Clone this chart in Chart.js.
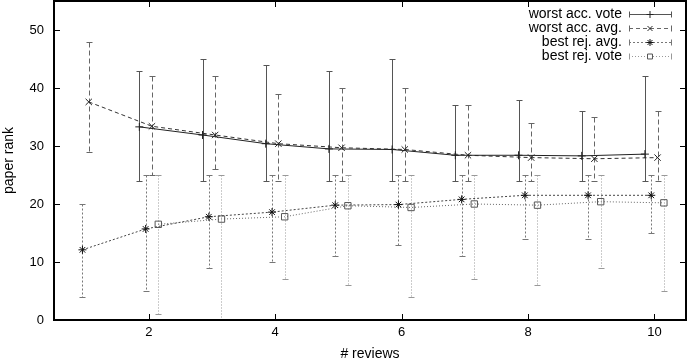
<!DOCTYPE html>
<html>
<head>
<meta charset="utf-8">
<script src="https://cdn.jsdelivr.net/npm/chart.js@4.4.0/dist/chart.umd.min.js"></script>
<style>
  html, body { margin: 0; padding: 0; background: #fff; }
  #wrap { width: 688px; height: 360px; }
</style>
</head>
<body>
<div id="wrap"><canvas id="rankChart" width="688" height="360"></canvas></div>
<script>
// # reviews
const reviewsAll = [1, 2, 3, 4, 5, 6, 7, 8, 9, 10];
const reviewsVote = [2, 3, 4, 5, 6, 7, 8, 9, 10];

// worst accepted paper, vote
const worstAccVote = [33.3, 31.9, 30.4, 29.5, 29.4, 28.4, 28.4, 28.3, 28.6];
const worstAccVoteLow = [24, 24, 24, 24, 24, 24, 24, 24, 24];
const worstAccVoteHigh = [43, 45, 44, 43, 45, 37, 38, 36, 42];

// worst accepted paper, average
const worstAccAvg = [37.6, 33.4, 31.9, 30.4, 29.7, 29.4, 28.4, 28.0, 27.8, 28.0];
const worstAccAvgLow = [29, 25, 26, 24, 24, 24, 24, 24, 24, 24];
const worstAccAvgHigh = [48, 42, 42, 39, 40, 40, 37, 34, 35, 36];

// best rejected paper, average
const bestRejAvg = [12.1, 15.7, 17.8, 18.6, 19.8, 19.9, 20.8, 21.5, 21.5, 21.5];
const bestRejAvgLow = [4, 5, 9, 10, 11, 13, 11, 14, 14, 15];
const bestRejAvgHigh = [20, 25, 25, 25, 25, 25, 25, 25, 25, 25];

// best rejected paper, vote
const bestRejVote = [16.5, 17.4, 17.8, 19.7, 19.4, 20.0, 19.8, 20.4, 20.2];
const bestRejVoteLow = [1, 0, 7, 6, 4, 7, 6, 9, 5];
const bestRejVoteHigh = [25, 25, 25, 25, 25, 25, 25, 25, 25];

const xTicks = [2, 4, 6, 8, 10];
const yTicks = [0, 10, 20, 30, 40, 50];

const FONT = '"Liberation Sans", Arial, Helvetica, sans-serif';

function points(xs, ys, shift) {
    return xs.map((n, i) => ({ x: n + shift, y: ys[i] }));
}

// vertical error bars with caps, drawn under the markers
const errorBars = {
    id: 'errorBars',
    beforeDatasetsDraw(chart) {
        const ctx = chart.ctx;
        const yScale = chart.scales.y;
        chart.data.datasets.forEach((ds, di) => {
            const meta = chart.getDatasetMeta(di);
            ctx.save();
            ctx.strokeStyle = ds.errColor;
            ctx.lineWidth = 1;
            ctx.setLineDash(ds.errDash);
            meta.data.forEach((pt, i) => {
                const px = Math.round(pt.x) + 0.5;
                const top = Math.round(yScale.getPixelForValue(ds.errHigh[i])) + 0.5;
                const bot = Math.round(yScale.getPixelForValue(ds.errLow[i])) + 0.5;
                ctx.beginPath();
                ctx.moveTo(px, top);
                ctx.lineTo(px, bot);
                ctx.stroke();
                ctx.setLineDash([]);
                ctx.beginPath();
                ctx.moveTo(px - 3, top); ctx.lineTo(px + 3, top);
                ctx.moveTo(px - 3, bot); ctx.lineTo(px + 3, bot);
                ctx.stroke();
                ctx.setLineDash(ds.errDash);
            });
            ctx.restore();
        });
    }
};

// gnuplot style frame with inward ticks, plus the key at top right
const frameAndKey = {
    id: 'frameAndKey',
    afterDraw(chart) {
        const ctx = chart.ctx;
        const a = chart.chartArea;
        const xs = chart.scales.x, ys = chart.scales.y;
        ctx.save();
        ctx.strokeStyle = '#000';
        ctx.lineWidth = 1;
        ctx.beginPath();
        xTicks.forEach(v => {
            const px = Math.round(xs.getPixelForValue(v)) + 0.5;
            ctx.moveTo(px, a.bottom); ctx.lineTo(px, a.bottom - 6);
            ctx.moveTo(px, a.top); ctx.lineTo(px, a.top + 6);
        });
        yTicks.forEach(v => {
            const py = Math.round(ys.getPixelForValue(v)) + 0.5;
            ctx.moveTo(a.left, py); ctx.lineTo(a.left + 6, py);
            ctx.moveTo(a.right, py); ctx.lineTo(a.right - 6, py);
        });
        ctx.stroke();
        ctx.lineWidth = 2;
        ctx.strokeRect(a.left, a.top, a.right - a.left, a.bottom - a.top);

        // key
        const textRight = 622, x0 = 629, x1 = 672, xm = 650;
        ctx.font = '14px ' + FONT;
        ctx.textAlign = 'right';
        ctx.textBaseline = 'middle';
        chart.data.datasets.forEach((ds, i) => {
            const ry = 14.5 + i * 14;
            ctx.fillStyle = '#000';
            ctx.fillText(ds.label, textRight, ry);
            ctx.strokeStyle = ds.errColor;
            ctx.lineWidth = 1;
            ctx.setLineDash(ds.borderDash);
            ctx.beginPath();
            ctx.moveTo(x0, ry); ctx.lineTo(x1, ry);
            ctx.stroke();
            ctx.setLineDash([]);
            ctx.beginPath();
            ctx.moveTo(x0 + 0.5, ry - 3); ctx.lineTo(x0 + 0.5, ry + 3);
            ctx.moveTo(x1 - 0.5, ry - 3); ctx.lineTo(x1 - 0.5, ry + 3);
            ctx.stroke();
            ctx.fillStyle = '#fff';
            ctx.strokeStyle = ds.pointBorderColor;
            Chart.helpers.drawPoint(ctx, {
                pointStyle: ds.pointStyle,
                radius: 3.5,
                rotation: 0,
                borderWidth: 1
            }, xm, ry);
        });
        ctx.restore();
    }
};

new Chart(document.getElementById('rankChart').getContext('2d'), {
    type: 'line',
    data: {
        datasets: [{
            label: 'worst acc. vote',
            data: points(reviewsVote, worstAccVote, -0.15),
            errLow: worstAccVoteLow,
            errHigh: worstAccVoteHigh,
            errColor: '#555',
            errDash: [],
            borderColor: '#222',
            borderDash: [],
            pointStyle: 'cross',
            pointRadius: 4,
            pointBorderColor: '#222'
        }, {
            label: 'worst acc. avg.',
            data: points(reviewsAll, worstAccAvg, 0.05),
            errLow: worstAccAvgLow,
            errHigh: worstAccAvgHigh,
            errColor: '#666',
            errDash: [5, 3],
            borderColor: '#333',
            borderDash: [4, 3],
            pointStyle: 'crossRot',
            pointRadius: 4.5,
            pointBorderColor: '#222'
        }, {
            label: 'best rej. avg.',
            data: points(reviewsAll, bestRejAvg, -0.05),
            errLow: bestRejAvgLow,
            errHigh: bestRejAvgHigh,
            errColor: '#777',
            errDash: [2, 2],
            borderColor: '#444',
            borderDash: [2, 2],
            pointStyle: 'star',
            pointRadius: 4,
            pointBorderColor: '#111'
        }, {
            label: 'best rej. vote',
            data: points(reviewsVote, bestRejVote, 0.15),
            errLow: bestRejVoteLow,
            errHigh: bestRejVoteHigh,
            errColor: '#999',
            errDash: [1, 2],
            borderColor: '#666',
            borderDash: [1, 2],
            pointStyle: 'rect',
            pointRadius: 4.5,
            pointBorderColor: '#555'
        }].map(ds => Object.assign({
            borderWidth: 1,
            pointBorderWidth: 1,
            pointBackgroundColor: 'rgba(0,0,0,0)',
            pointHoverRadius: 0,
            tension: 0,
            fill: false
        }, ds))
    },
    options: {
        responsive: false,
        animation: false,
        devicePixelRatio: 1,
        layout: {
            autoPadding: false,
            padding: { top: 1, right: 2, left: 0, bottom: 0 }
        },
        plugins: {
            legend: { display: false },
            tooltip: { enabled: false },
            title: { display: false }
        },
        scales: {
            x: {
                type: 'linear',
                min: 0.5,
                max: 10.5,
                afterBuildTicks: axis => { axis.ticks = xTicks.map(v => ({ value: v })); },
                afterFit: axis => {
                    axis.height = 40;
                    axis.paddingLeft = 0;
                    axis.paddingRight = 0;
                },
                grid: { display: false, drawTicks: false },
                border: { display: false },
                ticks: { color: '#000', padding: 5, font: { family: FONT, size: 13 } },
                title: {
                    display: true,
                    text: '# reviews',
                    color: '#000',
                    font: { family: FONT, size: 14, lineHeight: 0.8 },
                    padding: { top: 0, bottom: 0 }
                }
            },
            y: {
                min: 0,
                max: 55,
                afterBuildTicks: axis => { axis.ticks = yTicks.map(v => ({ value: v })); },
                afterFit: axis => {
                    axis.width = 54;
                    axis.paddingTop = 0;
                    axis.paddingBottom = 0;
                },
                grid: { display: false, drawTicks: false },
                border: { display: false },
                ticks: { color: '#000', padding: 10, font: { family: FONT, size: 13 } },
                title: {
                    display: true,
                    text: 'paper rank',
                    color: '#000',
                    font: { family: FONT, size: 14 },
                    padding: { top: 1, bottom: 0 }
                }
            }
        }
    },
    plugins: [errorBars, frameAndKey]
});
</script>
</body>
</html>
